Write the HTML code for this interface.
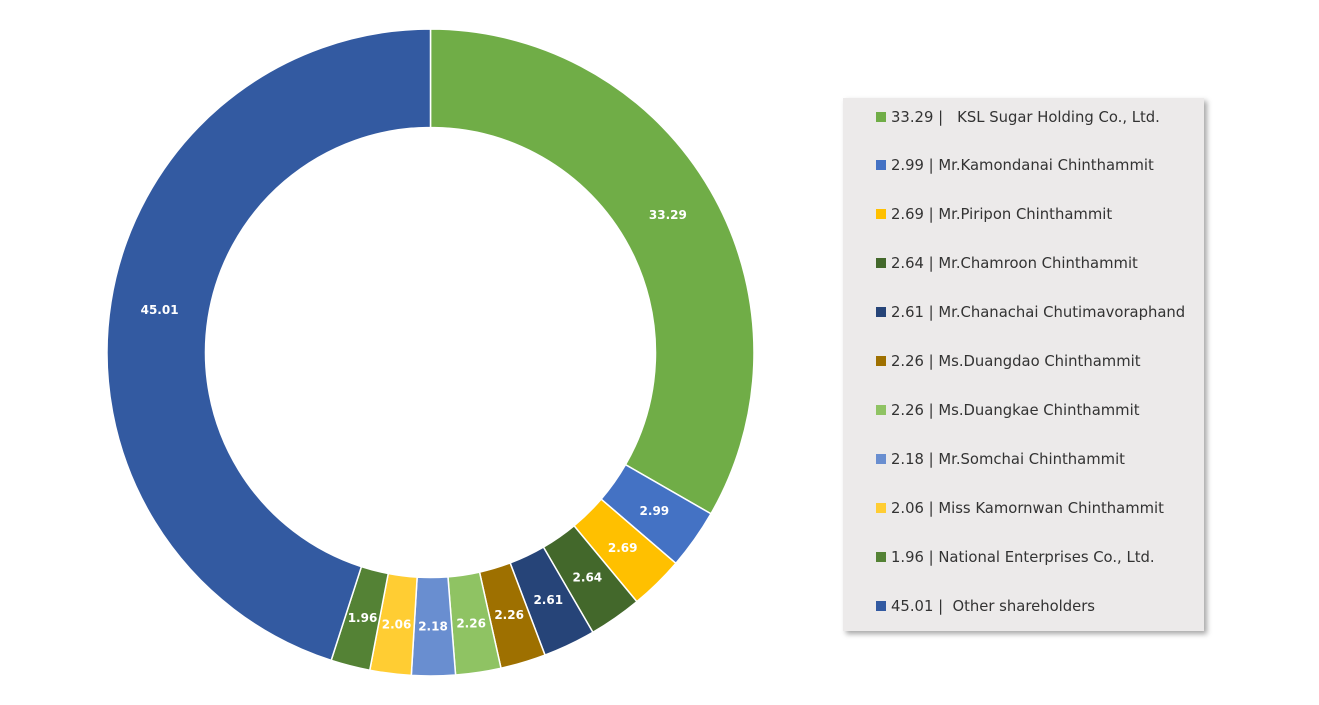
<!DOCTYPE html>
<html><head><meta charset="utf-8"><style>
body{margin:0;width:1319px;height:705px;background:#fff;overflow:hidden;font-family:"Liberation Sans",sans-serif}
#leg{position:absolute;left:843px;top:98px;width:361px;height:533px;background:#ECEAEA;box-shadow:3px 3px 5px rgba(0,0,0,0.35)}
.it{position:absolute;left:33px;font-family:"DejaVu Sans",sans-serif;font-size:14.8px;color:#333;white-space:nowrap;line-height:18px}
.it i{display:inline-block;width:10px;height:10px;margin-right:5px;vertical-align:0px}
</style></head><body>
<svg id="s" width="1319" height="705" style="position:absolute;left:0;top:0"></svg>
<div id="leg"></div>
<script>
var d=[[33.29,"#70AD47","33.29 |&nbsp;&nbsp; KSL Sugar Holding Co., Ltd."],[2.99,"#4472C4","2.99 | Mr.Kamondanai Chinthammit"],[2.69,"#FFC000","2.69 | Mr.Piripon Chinthammit"],[2.64,"#43682B","2.64 | Mr.Chamroon Chinthammit"],[2.61,"#264478","2.61 | Mr.Chanachai Chutimavoraphand"],[2.26,"#9E7000","2.26 | Ms.Duangdao Chinthammit"],[2.26,"#8FC363","2.26 | Ms.Duangkae Chinthammit"],[2.18,"#698ED0","2.18 | Mr.Somchai Chinthammit"],[2.06,"#FFCD33","2.06 | Miss Kamornwan Chinthammit"],[1.96,"#548235","1.96 | National Enterprises Co., Ltd."],[45.01,"#335AA1","45.01 |&nbsp; Other shareholders"]];
var tot=0;d.forEach(function(x){tot+=x[0]});
var cx=430.5,cy=352.5,R=323.5,r=225,a=0,svg="",leg="";
function p(rad,ang){return [cx+rad*Math.sin(ang),cy-rad*Math.cos(ang)];}
d.forEach(function(x,i){
 var a2=a+x[0]/tot*2*Math.PI,lg=(a2-a)>Math.PI?1:0;
 var p1=p(R,a),p2=p(R,a2),p3=p(r,a2),p4=p(r,a);
 svg+='<path d="M'+p1+' A'+R+','+R+' 0 '+lg+' 1 '+p2+' L'+p3+' A'+r+','+r+' 0 '+lg+' 0 '+p4+'Z" fill="'+x[1]+'" stroke="#fff" stroke-width="1.5"/>';
 var m=p((R+r)/2,(a+a2)/2);
 svg+='<text x="'+m[0]+'" y="'+(m[1]+4)+'" fill="#fff" font-family="DejaVu Sans" font-size="12" font-weight="bold" text-anchor="middle">'+x[0].toFixed(2)+'</text>';
 leg+='<div class="it" style="top:'+(10.5+i*48.9)+'px"><i style="background:'+x[1]+'"></i>'+x[2]+'</div>';
 a=a2;});
document.getElementById("s").innerHTML=svg;
document.getElementById("leg").innerHTML=leg;
</script>
</body></html>
